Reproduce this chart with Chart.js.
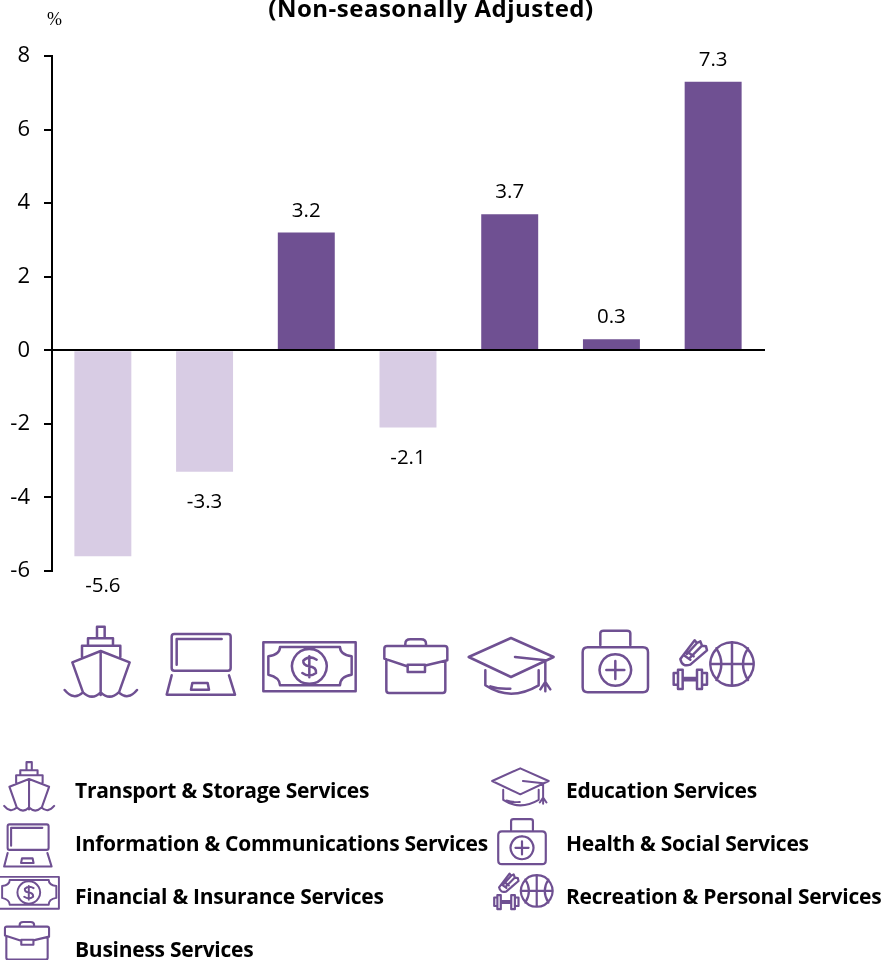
<!DOCTYPE html>
<html lang="en">
<head>
    <meta charset="UTF-8">
    <title>Services Growth (Non-seasonally Adjusted)</title>
    <style>
        body {
            margin: 0;
            background: #fff;
            font-family: "Open Sans", sans-serif;
            color: #000;
        }
        #wrap {
            position: relative;
            width: 883px;
            height: 960px;
            overflow: hidden;
        }
        canvas { display: block; }
        #title, #unit, .legend-label, .icon { position: absolute; }
        #title {
            left: 231px;
            width: 400px;
            top: -8px;
            text-align: center;
            font-weight: 700;
            font-size: 24px;
            letter-spacing: 0.5px;
            line-height: 32px;
        }
        #unit {
            left: 47px;
            top: 9px;
            font-family: "Liberation Serif", serif;
            font-size: 18px;
            line-height: 20px;
        }
        .legend-label {
            font-weight: 700;
            font-size: 21px;
            line-height: 28px;
            letter-spacing: -0.26px;
            white-space: nowrap;
        }
        .icon {
            fill: none;
            overflow: visible;
            stroke: #6f5092;
            stroke-width: 7.5;
            stroke-linejoin: round;
            stroke-linecap: round;
        }
        #legend .icon { stroke-width: 9; }
    </style>
</head>
<body>

<div id="wrap">
    <canvas id="myChart" width="883" height="960"></canvas>
    <div id="title">(Non-seasonally Adjusted)</div>
    <div id="unit">%</div>
    <div id="icons"></div>
    <div id="legend"></div>
</div>

<script src="https://cdn.jsdelivr.net/npm/chart.js"></script>
<script>
    const categories = [
        'Transport & Storage Services',
        'Information & Communications Services',
        'Financial & Insurance Services',
        'Business Services',
        'Education Services',
        'Health & Social Services',
        'Recreation & Personal Services'
    ];
    const growth = [-5.6, -3.3, 3.2, -2.1, 3.7, 0.3, 7.3];
    const yTicks = [-6, -4, -2, 0, 2, 4, 6, 8];

    const DARK = '#6f5092';
    const LIGHT = '#d8cce4';

    // icon outlines, one per category, in their own viewBox units
    const iconShapes = [
        { box: [40, 30, 230, 222], d: 'M142 70V35H165V70M115 92V70H190V92ZM97 125V92H212V125M68 142L153 108L240 142L208 232M68 142L100 232M153 108V240M45 225Q72 258 100 232Q127 258 153 232Q180 258 207 232Q235 258 262 225' },
        { box: [345, 52, 216, 194], d: 'M373 58H534Q542 58 542 66V160Q542 168 534 168H373Q365 168 365 160V66Q365 58 373 58ZM380 150V73H515M365 182L350 240H555L537 182M423 225L427 205H473L477 225Z' },
        { box: [636, 79, 286, 156], d: 'M640 83H917V230H640ZM690 97H870Q870 120 905 125V180Q870 185 870 212H690Q690 188 655 180V125Q690 120 690 97ZM778 103A52 52 0 1 0 778.1 103M800 135Q778 120 760 138Q758 152 778 155Q800 158 798 175Q778 190 757 175M778 125V188' },
        { box: [-4, 68, 197, 170], d: 'M63 92V85Q63 72 78 72H110Q125 72 125 85V92M8 92H181Q189 92 189 100V135L126 150M0 130V100Q0 92 8 92M0 130L66 152M6 132V225Q6 233 14 233H175Q183 233 183 225V137M70 148H122V170H70Z' },
        { box: [200, 62, 266, 180], d: 'M205 125L332 68L460 125L332 185ZM344 125L435 135V200M435 200L420 222M435 200L450 222M435 200V228M255 165V210Q330 260 415 210V165M270 213Q295 222 330 220' },
        { box: [542, 42, 206, 196], d: 'M562 97H728Q743 97 743 112V217Q743 232 728 232H562Q547 232 547 217V112Q547 97 562 97ZM600 90V55Q600 47 610 47H680Q690 47 690 55V90M645 118A47 47 0 1 0 645.1 118M645 138V192M618 165H672' },
        { box: [815, 70, 247, 155], d: 'M995 83A65 65 0 1 0 995.1 83M995 83V213M930 148H1060M948 101Q978 148 948 196M1043 101Q1013 148 1043 196M840 133L883 77L890 85L900 80L905 93L917 95L920 107L870 150Q845 158 840 133ZM853 123L870 135M862 112L880 125M860 118L890 85M870 128L905 93M820 175H833V210H820ZM833 165H847V223H833ZM847 190H890V197H847ZM890 165H905V223H890ZM905 175H920V210H905Z' }
    ];

    function addIcon(parent, shape, left, top, width) {
        const [x, y, w, h] = shape.box;
        const svg = document.createElementNS('http://www.w3.org/2000/svg', 'svg');
        svg.setAttribute('class', 'icon');
        svg.setAttribute('viewBox', `${x} ${y} ${w} ${h}`);
        svg.style.left = left + 'px';
        svg.style.top = top + 'px';
        svg.style.width = width + 'px';
        svg.style.height = (width * h / w) + 'px';
        const path = document.createElementNS('http://www.w3.org/2000/svg', 'path');
        path.setAttribute('d', shape.d);
        svg.appendChild(path);
        parent.appendChild(svg);
    }

    // row of icons under the bars
    const iconRow = document.getElementById('icons');
    const rowLeft = [63, 165, 262, 383, 467, 581, 672];
    const rowTop = [625, 632, 641, 638, 636, 629, 638];
    iconShapes.forEach((s, i) => addIcon(iconRow, s, rowLeft[i], rowTop[i], s.box[2] / 3));

    // legend, two columns
    const legendBox = document.getElementById('legend');
    const legendIconLeft = [3, 3, -2, 4, 491, 497, 493];
    const legendIconTop = [761, 823, 876, 921, 767, 818, 872];
    const legendIconWidth = [53, 50, 62, 46, 59, 50, 60];
    const legendTop = [776, 829, 882, 935, 776, 829, 882];
    categories.forEach((name, i) => {
        addIcon(legendBox, iconShapes[i], legendIconLeft[i], legendIconTop[i], legendIconWidth[i]);
        const label = document.createElement('div');
        label.className = 'legend-label';
        label.textContent = name;
        label.style.left = (i < 4 ? 75 : 566) + 'px';
        label.style.top = legendTop[i] + 'px';
        legendBox.appendChild(label);
    });

    // value labels above / below the bars
    const barLabels = {
        id: 'barLabels',
        afterDatasetsDraw(chart) {
            const ctx = chart.ctx;
            ctx.save();
            ctx.font = '20.5px "Open Sans"';
            ctx.fillStyle = '#000';
            ctx.textAlign = 'center';
            chart.getDatasetMeta(0).data.forEach((bar, i) => {
                const v = growth[i];
                ctx.fillText(v.toFixed(1), bar.x, v < 0 ? bar.y + 36 : bar.y - 16);
            });
            ctx.restore();
        }
    };

    new Chart(document.getElementById('myChart').getContext('2d'), {
        type: 'bar',
        data: {
            labels: categories,
            datasets: [{
                data: growth,
                backgroundColor: growth.map(v => v < 0 ? LIGHT : DARK),
                categoryPercentage: 1,
                barPercentage: 0.56
            }]
        },
        options: {
            responsive: false,
            animation: false,
            layout: { padding: { top: 56, right: 119, bottom: 389, left: 0 } },
            plugins: { legend: { display: false }, tooltip: { enabled: false } },
            scales: {
                x: {
                    position: { y: 0 },
                    grid: { display: false },
                    border: { display: true, color: '#000', width: 2, z: 1 },
                    ticks: { display: false }
                },
                y: {
                    min: yTicks[0],
                    max: yTicks[yTicks.length - 1],
                    afterBuildTicks(scale) {
                        scale.ticks = yTicks.map(v => ({ value: v }));
                    },
                    afterFit(scale) {
                        scale.width = 52;
                    },
                    grid: { drawOnChartArea: false, drawTicks: true, tickLength: 8, color: '#000', lineWidth: 2 },
                    border: { display: true, color: '#000', width: 2 },
                    ticks: { color: '#000', font: { family: 'Open Sans', size: 22 }, padding: 14 }
                }
            }
        },
        plugins: [barLabels]
    });
</script>

</body>
</html>
